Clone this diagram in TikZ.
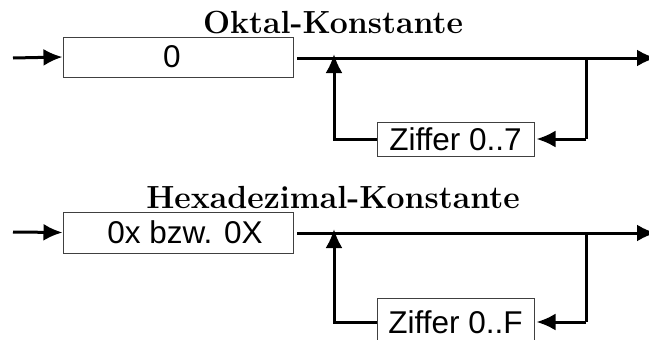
\documentclass[tikz,border=0pt]{standalone}
\usepackage{fontspec}
\setsansfont{Liberation Sans}
\usetikzlibrary{arrows.meta}
\begin{document}
\begin{tikzpicture}[x=1pt,y=-1pt,
  flow/.style={line width=3pt,-{Latex[length=19pt,width=17pt]}},
  wire/.style={line width=3pt},
  term/.style={draw=black!75,line width=1pt,fill=white,inner sep=0pt,
    font=\sffamily\fontsize{31.5}{36}\selectfont},
  title/.style={anchor=base,font=\bfseries\fontsize{32}{38}\selectfont}]
\useasboundingbox (0,0) rectangle (649,340);

% ---------- Oktal-Konstante ----------
\node[title] (t1) at (333,33) {Oktal-Konstante};
\coordinate (in1) at (13,58);
\node[term,minimum width=230pt,minimum height=40pt] (b1) at (178,57) {\hspace*{-12pt}0};
\coordinate (s1) at (297,58);
\coordinate (o1) at (656,58);
\coordinate (j1) at (334,58);
\coordinate (k1) at (586,58);
\node[term,minimum width=157pt,minimum height=34pt] (z1) at (455.5,139) {Ziffer 0..7};
\draw[flow] (in1) -- (b1.west);
\draw[flow] (s1) -- (o1);
\draw[wire] (k1) -- (k1 |- z1.east) coordinate (r1);
\draw[flow] (r1) -- ([xshift=2pt]z1.east);
\draw[flow] (z1.west) -| ([yshift=4pt]j1);

% ---------- Hexadezimal-Konstante ----------
\node[title] (t2) at (333,208) {Hexadezimal-Konstante};
\coordinate (in2) at (13,232);
\node[term,minimum width=230pt,minimum height=41pt] (b2) at (178,232.5) {\hspace*{14pt}0x bzw. 0X};
\coordinate (s2) at (297,233);
\coordinate (o2) at (656,233);
\coordinate (j2) at (334,233);
\coordinate (k2) at (586,233);
\node[term,minimum width=157pt,minimum height=48pt] (z2) at (455.5,322) {Ziffer 0..F};
\draw[flow] (in2) -- (b2.west);
\draw[flow] (s2) -- (o2);
\draw[wire] (k2) -- (k2 |- z2.east) coordinate (r2);
\draw[flow] (r2) -- ([xshift=2pt]z2.east);
\draw[flow] (z2.west) -| ([yshift=4pt]j2);
\end{tikzpicture}
\end{document}
